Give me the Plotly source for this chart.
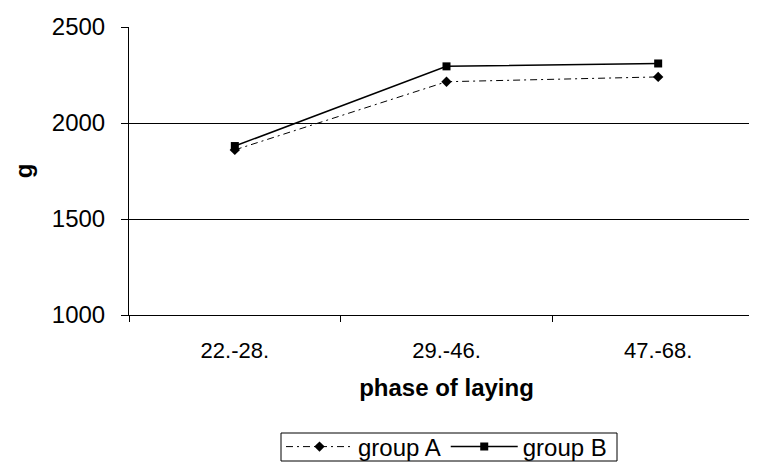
import plotly.graph_objects as go

categories = ["22.-28.", "29.-46.", "47.-68."]
group_a = [1860, 2215, 2240]
group_b = [1880, 2295, 2310]
y_ticks = [1000, 1500, 2000, 2500]

fig = go.Figure()
fig.add_trace(go.Scatter(
    x=categories, y=group_a, name="group A", mode="lines+markers",
    line=dict(color="black", width=1, dash="7px,4px,2px,4px"),
    marker=dict(symbol="diamond", size=8, color="black"),
))
fig.add_trace(go.Scatter(
    x=categories, y=group_b, name="group B", mode="lines+markers",
    line=dict(color="black", width=1.5),
    marker=dict(symbol="square", size=8, color="black"),
))

fam = "Liberation Sans, Arial"
font24 = dict(family=fam, size=24, color="black")
font22 = dict(family=fam, size=22, color="black")

# legend frame (plot area: x 121..756, y 19..307 px)
fig.add_shape(type="rect", xref="paper", yref="paper",
              x0=(273 - 121) / 635, x1=(609 - 121) / 635,
              y0=-(453 - 307) / 288, y1=-(425 - 307) / 288,
              line=dict(color="black", width=1), fillcolor="rgba(0,0,0,0)")

fig.update_layout(
    width=757, height=466,
    margin=dict(l=121, r=1, t=19, b=159),
    paper_bgcolor="white", plot_bgcolor="white",
    font=font24,
    showlegend=True,
    legend=dict(orientation="h", x=0.5, xanchor="center", y=-(439 - 307) / 288,
                yanchor="middle", borderwidth=0, bgcolor="rgba(0,0,0,0)",
                font=font24, itemwidth=67, tracegroupgap=0),
    xaxis=dict(
        type="category", showline=True, linecolor="black", linewidth=1,
        ticks="outside", tickson="boundaries", ticklen=6, tickcolor="black",
        showgrid=False, range=[-0.5, 2.5], ticklabelstandoff=16,
        tickfont=font22,
        title=dict(text="<b>phase of laying</b>", font=font24, standoff=16),
    ),
    yaxis=dict(
        range=[1000, 2500], tickvals=y_ticks, showline=True, linecolor="black",
        linewidth=1, ticks="outside", ticklen=7, tickcolor="black",
        showgrid=True, gridcolor="black", gridwidth=1, zeroline=False,
        ticklabelstandoff=11, tickfont=font24,
        title=dict(text="<b>g</b>", font=font24, standoff=12),
    ),
)
fig.write_html("out.html")
